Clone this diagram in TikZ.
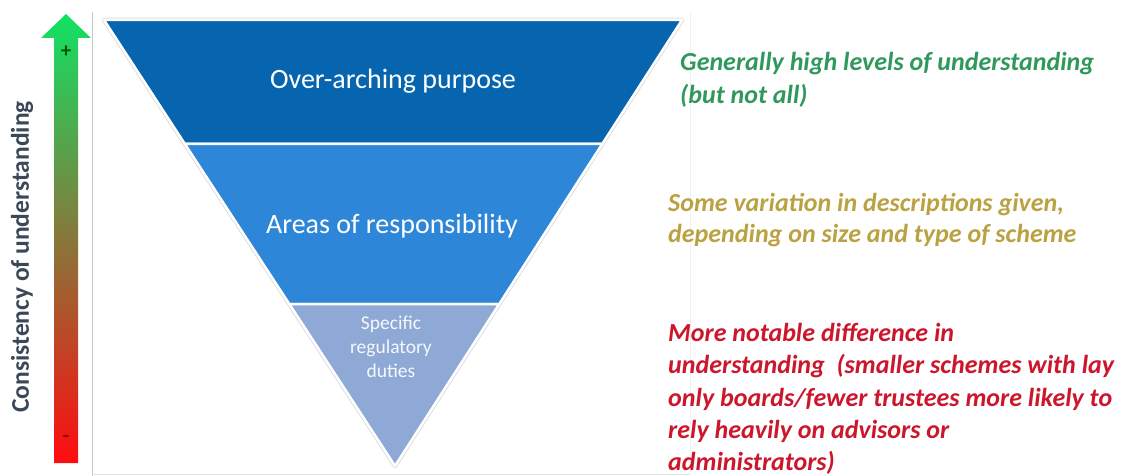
\documentclass[tikz,border=0pt]{standalone}
\usepackage{fontspec}
\setmainfont{Carlito}
\usetikzlibrary{calc}

\definecolor{topblue}{RGB}{6,101,174}
\definecolor{midblue}{RGB}{46,134,216}
\definecolor{lowblue}{RGB}{142,169,214}
\definecolor{upgreen}{RGB}{16,226,100}
\definecolor{midbrown}{RGB}{128,118,56}
\definecolor{downred}{RGB}{255,12,16}
\definecolor{notegreen}{RGB}{48,152,92}
\definecolor{notegold}{RGB}{186,162,66}
\definecolor{notered}{RGB}{204,22,44}
\definecolor{axisgray}{RGB}{58,72,88}

\begin{document}
\begin{tikzpicture}[
            x=1pt, y=-1pt,
            band/.style={draw=white, line width=2.5pt, line join=round},
            band_label/.style={text=white, align=center, font=\fontsize{28}{32}\selectfont},
            note/.style={anchor=north west, align=left, inner sep=0pt},
            frame/.style={draw, line width=0.8pt}
        ]
        \useasboundingbox (0,0) rectangle (1127,476);

        % Frame round the triangle
        \draw[frame, gray!45] (92,12) -- (92,476);
        \draw[frame, gray!22] (92,474) -- (690,474);
        \draw[frame, gray!12] (690,12) -- (690,474);

        % Corners of the triangle
        \coordinate (tl) at (104,20);
        \coordinate (tr) at (682,20);
        \coordinate (apex) at (395,466);
        \coordinate (l1) at ($(tl)!0.278!(apex)$);
        \coordinate (r1) at ($(tr)!0.278!(apex)$);
        \coordinate (l2) at ($(tl)!0.637!(apex)$);
        \coordinate (r2) at ($(tr)!0.637!(apex)$);

        % Bands
        \draw[gray!25, line width=4.5pt, line join=round] (tl) -- (tr) -- (apex) -- cycle;
        \path[band, fill=topblue] (tl) -- (tr) -- (r1) -- (l1) -- cycle;
        \path[band, fill=midblue] (l1) -- (r1) -- (r2) -- (l2) -- cycle;
        \path[band, fill=lowblue] (l2) -- (r2) -- (apex) -- cycle;

        \node[band_label] (purpose) at (393,81) {Over-arching purpose};
        \node[band_label] (areas) at (392,226) {Areas of responsibility};
        \node[band_label, text=white!92!lowblue, font=\fontsize{19.5}{24}\selectfont] (duties) at (391,347) {Specific\\regulatory\\duties};

        % Arrow on the left
        \shade[top color=upgreen, middle color=midbrown, bottom color=downred]
            (54,463) -- (54,38) -- (41,38) -- (66,14) -- (91,38) -- (78,38) -- (78,463) -- cycle;
        \node[font=\fontsize{21}{21}\selectfont\bfseries, text=green!35!black] (plus) at (66,52) {+};
        \node[font=\fontsize{21}{21}\selectfont\bfseries, text=red!55!black] (minus) at (66,439) {-};
        \node[rotate=90, text=axisgray, font=\fontsize{25.5}{30}\selectfont\bfseries] (axis) at (22,257) {Consistency of understanding};

        % Notes on the right
        \node[note, text=notegreen, font=\fontsize{26}{33}\selectfont\bfseries\itshape] (high) at (680,52) {Generally high levels of understanding\\(but not all)};
        \node[note, text=notegold, font=\fontsize{26}{31}\selectfont\bfseries\itshape] (some) at (668,193) {Some variation in descriptions given,\\depending on size and type of scheme};
        \node[note, text=notered, font=\fontsize{26}{32.3}\selectfont\bfseries\itshape] (more) at (668,323) {More notable difference in\\understanding\ \ (smaller schemes with lay\\only boards/fewer trustees more likely to\\rely heavily on advisors or\\administrators)};

    \end{tikzpicture}
\end{document}
